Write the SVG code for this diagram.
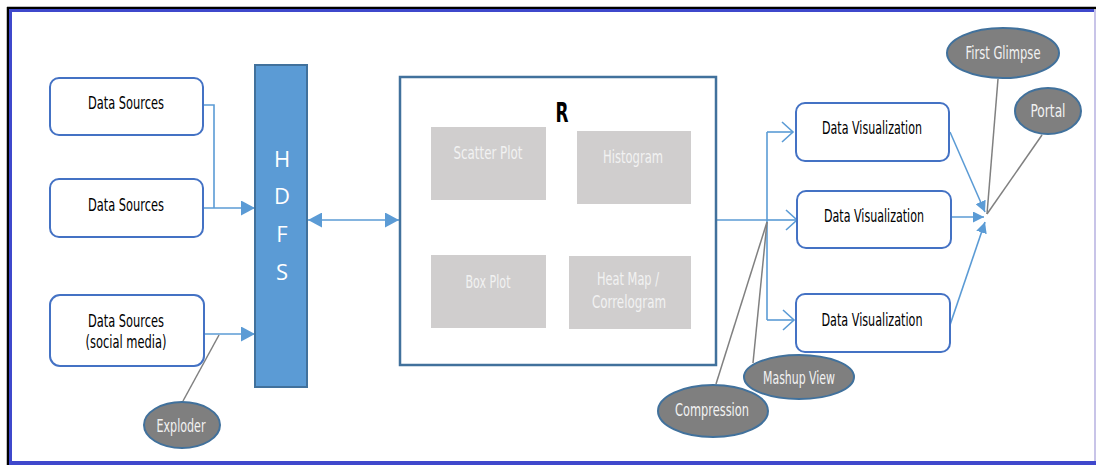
<svg xmlns="http://www.w3.org/2000/svg" width="1096" height="465" viewBox="0 0 1096 465">
<defs>
<style>
.frame-black{stroke:#000;stroke-width:2.5;fill:none}
.frame-blue{stroke:#3F48CC;fill:none}
.ds{fill:#fff;stroke:#4472C4;stroke-width:2}
.lbl{font-family:"DejaVu Sans Condensed","DejaVu Sans",sans-serif;font-size:18px;fill:#000;text-anchor:middle}
.gbox{fill:#D0CECE}
.glbl{font-family:"DejaVu Sans Condensed","DejaVu Sans",sans-serif;font-size:18px;fill:#F2F2F2;text-anchor:middle}
.ell{fill:#7F7F7F;stroke:#41719C;stroke-width:2}
.elbl{font-family:"DejaVu Sans Condensed","DejaVu Sans",sans-serif;font-size:18px;fill:#F2F2F2;text-anchor:middle}
.hdfs{font-family:"Open Sans","Liberation Sans",sans-serif;font-size:22px;fill:#fff;text-anchor:middle}
.conn{stroke:#5B9BD5;stroke-width:1.6;fill:none}
.gray{stroke:#808080;stroke-width:1.5;fill:none}
</style>
<marker id="fa" markerUnits="userSpaceOnUse" markerWidth="14" markerHeight="15" refX="14" refY="7.5" orient="auto">
<path d="M0,0 L14,7.5 L0,15 z" fill="#5B9BD5"/>
</marker>
<marker id="fa2" markerUnits="userSpaceOnUse" markerWidth="14" markerHeight="15" refX="14" refY="7.5" orient="auto-start-reverse">
<path d="M0,0 L14,7.5 L0,15 z" fill="#5B9BD5"/>
</marker>
<marker id="sa" markerUnits="userSpaceOnUse" markerWidth="11" markerHeight="11" refX="11" refY="5.5" orient="auto">
<path d="M0,0 L11,5.5 L0,11 z" fill="#5B9BD5"/>
</marker>
<marker id="oa" markerUnits="userSpaceOnUse" markerWidth="14" markerHeight="24" refX="12" refY="12" orient="auto">
<path d="M1,2 L12,12 L1,22" fill="none" stroke="#5B9BD5" stroke-width="1.6"/>
</marker>
</defs>

<g id="frame">
<rect x="0" y="0" width="1096" height="465" fill="#fff"/>
<line class="frame-black" x1="7" y1="8" x2="1096" y2="8"/>
<line class="frame-black" x1="8" y1="7" x2="8" y2="465"/>
<line class="frame-blue" stroke-width="3" x1="9.5" y1="10.5" x2="1094" y2="10.5"/>
<line class="frame-blue" stroke-width="3" x1="10.5" y1="9.5" x2="10.5" y2="465"/>
<line class="frame-blue" stroke-width="4" x1="9" y1="463" x2="1096" y2="463"/>
<line stroke="#C8C4E8" stroke-width="2" x1="1095" y1="10" x2="1095" y2="461"/>
</g>

<g id="connectors">
<polyline class="conn" points="203,105 214,105 214,208"/>
<line class="conn" x1="203" y1="208" x2="255" y2="208" marker-end="url(#fa)"/>
<line class="conn" x1="204" y1="334" x2="255" y2="334" marker-end="url(#fa)"/>
<line class="conn" x1="308" y1="220" x2="399" y2="220" marker-start="url(#fa2)" marker-end="url(#fa2)"/>
<line class="conn" x1="716" y1="220" x2="767" y2="220"/>
<line class="conn" x1="767" y1="132" x2="767" y2="320"/>
<line class="conn" x1="767" y1="132" x2="793" y2="132" marker-end="url(#oa)"/>
<line class="conn" x1="767" y1="220" x2="797" y2="220" marker-end="url(#oa)"/>
<line class="conn" x1="767" y1="320" x2="794" y2="320" marker-end="url(#oa)"/>
<line class="conn" x1="950" y1="132" x2="985" y2="212" marker-end="url(#sa)"/>
<line class="conn" x1="951" y1="217" x2="984" y2="217" marker-end="url(#sa)"/>
<line class="conn" x1="950" y1="325" x2="985" y2="222" marker-end="url(#sa)"/>
<line class="gray" x1="998" y1="79" x2="987" y2="214"/>
<line class="gray" x1="1042" y1="135" x2="987" y2="214"/>
<line class="gray" x1="716" y1="384" x2="767" y2="222"/>
<line class="gray" x1="753" y1="363" x2="767" y2="222"/>
<line class="gray" x1="183" y1="401" x2="219" y2="335"/>
</g>

<g id="ds1">
<rect class="ds" x="50" y="78" width="153" height="57" rx="9"/>
<text class="lbl" x="126" y="109" textLength="76" lengthAdjust="spacingAndGlyphs">Data Sources</text>
</g>
<g id="ds2">
<rect class="ds" x="50" y="179" width="153" height="58" rx="9"/>
<text class="lbl" x="126" y="211" textLength="76" lengthAdjust="spacingAndGlyphs">Data Sources</text>
</g>
<g id="ds3">
<rect class="ds" x="50" y="295" width="154" height="71" rx="10"/>
<text class="lbl" x="126" y="327" textLength="76" lengthAdjust="spacingAndGlyphs">Data Sources</text>
<text class="lbl" x="126" y="348" textLength="81" lengthAdjust="spacingAndGlyphs">(social media)</text>
</g>

<g id="hdfs">
<rect x="255" y="65" width="52" height="322" fill="#5B9BD5" stroke="#41719C" stroke-width="2"/>
<text class="hdfs" x="282" y="167">H</text>
<text class="hdfs" x="282" y="204">D</text>
<text class="hdfs" x="282" y="242">F</text>
<text class="hdfs" x="282" y="280">S</text>
</g>

<g id="r">
<rect x="400" y="77" width="316" height="288" fill="#fff" stroke="#41719C" stroke-width="2.5"/>
<text x="562" y="122" font-family="DejaVu Sans Condensed,DejaVu Sans,sans-serif" font-size="26" font-weight="bold" text-anchor="middle" fill="#000" textLength="13" lengthAdjust="spacingAndGlyphs">R</text>
</g>
<g id="scatter">
<rect class="gbox" x="431" y="127" width="115" height="73"/>
<text class="glbl" x="488" y="159" textLength="69" lengthAdjust="spacingAndGlyphs">Scatter Plot</text>
</g>
<g id="histogram">
<rect class="gbox" x="577" y="131" width="114" height="73"/>
<text class="glbl" x="633" y="163" textLength="60" lengthAdjust="spacingAndGlyphs">Histogram</text>
</g>
<g id="boxplot">
<rect class="gbox" x="431" y="255" width="115" height="73"/>
<text class="glbl" x="488" y="288" textLength="45" lengthAdjust="spacingAndGlyphs">Box Plot</text>
</g>
<g id="heatmap">
<rect class="gbox" x="569" y="256" width="122" height="73"/>
<text class="glbl" x="628" y="285" textLength="62" lengthAdjust="spacingAndGlyphs">Heat Map /</text>
<text class="glbl" x="629" y="308" textLength="74" lengthAdjust="spacingAndGlyphs">Correlogram</text>
</g>

<g id="dv1">
<rect class="ds" x="796" y="103" width="153" height="58" rx="9"/>
<text class="lbl" x="872" y="134" textLength="100" lengthAdjust="spacingAndGlyphs">Data Visualization</text>
</g>
<g id="dv2">
<rect class="ds" x="797" y="191" width="154" height="57" rx="9"/>
<text class="lbl" x="874" y="222" textLength="100" lengthAdjust="spacingAndGlyphs">Data Visualization</text>
</g>
<g id="dv3">
<rect class="ds" x="796" y="294" width="154" height="58" rx="9"/>
<text class="lbl" x="872" y="326" textLength="101" lengthAdjust="spacingAndGlyphs">Data Visualization</text>
</g>

<g id="firstglimpse">
<ellipse class="ell" cx="1003" cy="53" rx="56" ry="25"/>
<text class="elbl" x="1003" y="59" textLength="75" lengthAdjust="spacingAndGlyphs">First Glimpse</text>
</g>
<g id="portal">
<ellipse class="ell" cx="1048" cy="111" rx="33" ry="23"/>
<text class="elbl" x="1048" y="117" textLength="35" lengthAdjust="spacingAndGlyphs">Portal</text>
</g>
<g id="compression">
<ellipse class="ell" cx="713" cy="411" rx="55" ry="26"/>
<text class="elbl" x="712" y="416" textLength="74" lengthAdjust="spacingAndGlyphs">Compression</text>
</g>
<g id="mashup">
<ellipse class="ell" cx="799" cy="377" rx="55" ry="22"/>
<text class="elbl" x="799" y="384" textLength="72" lengthAdjust="spacingAndGlyphs">Mashup View</text>
</g>
<g id="exploder">
<ellipse class="ell" cx="182" cy="425" rx="38" ry="23"/>
<text class="elbl" x="181" y="432" textLength="49" lengthAdjust="spacingAndGlyphs">Exploder</text>
</g>
</svg>
